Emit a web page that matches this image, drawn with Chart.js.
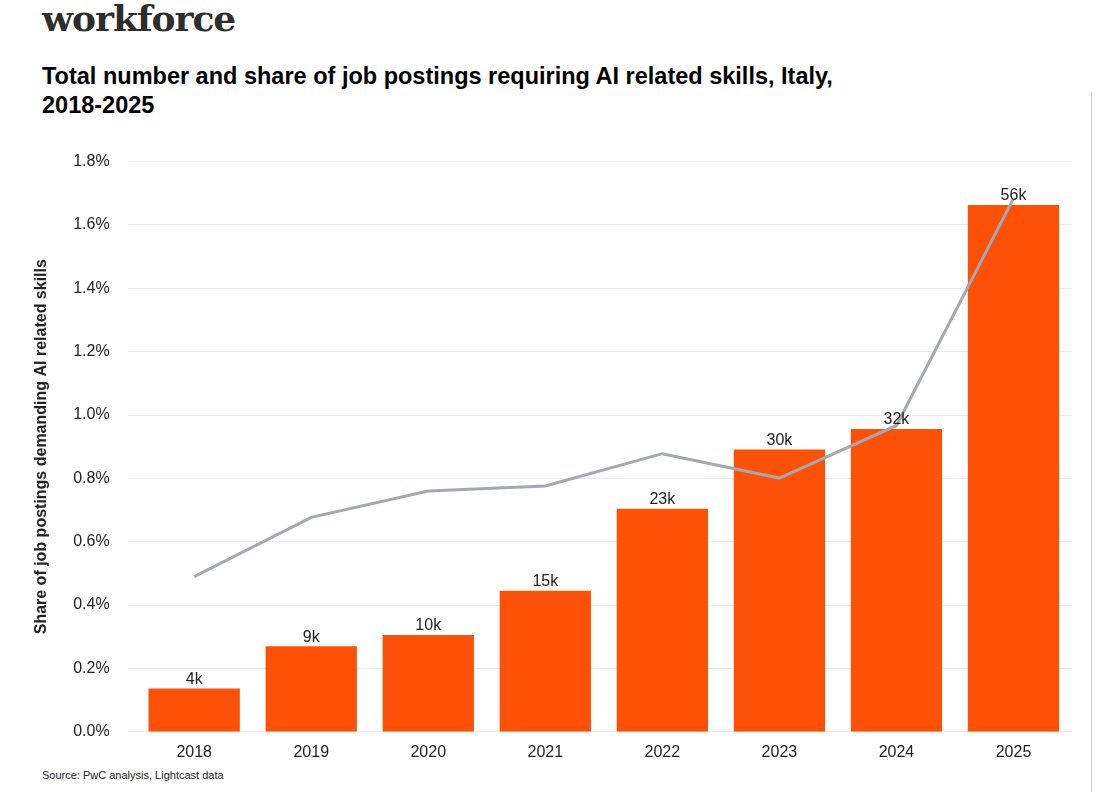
<!DOCTYPE html>
<html><head><meta charset="utf-8">
<script src="https://cdn.jsdelivr.net/npm/chart.js@4"></script>
<style>
body{margin:0;background:#fff;font-family:"Liberation Sans",Arial,sans-serif;}
#wrap{position:relative;width:1114px;height:803px;overflow:hidden}
#top{position:absolute;left:42px;top:-3px;font-family:"DejaVu Serif","Liberation Serif",serif;font-size:36px;color:#2d2d2d;font-weight:bold;letter-spacing:-1px}
#title{position:absolute;left:42px;top:62px;font-size:23.5px;font-weight:bold;color:#000;line-height:29px}
#vline{position:absolute;left:1091px;top:92px;width:1px;height:700px;background:#ccc}
#src{position:absolute;left:42px;top:769px;font-size:11px;color:#222}
#cv{position:absolute;left:30px;top:134px}
</style></head><body>
<div id="wrap">
<div id="top">workforce</div>
<div id="title">Total number and share of job postings requiring AI related skills, Italy,<br>2018-2025</div>
<div id="vline"></div>
<div id="cv"><canvas id="c" width="1062" height="631"></canvas></div>
<div id="src">Source: PwC analysis, Lightcast data</div>
</div>
<script>
const years=["2018","2019","2020","2021","2022","2023","2024","2025"];
const postingsK=[4.6,9.1,10.3,15.0,23.7,30.0,32.2,56.0];
const postingLabels=["4k","9k","10k","15k","23k","30k","32k","56k"];
const sharePct=[0.49,0.677,0.76,0.776,0.878,0.801,0.967,1.683];
const yTicks=[0,0.2,0.4,0.6,0.8,1.0,1.2,1.4,1.6,1.8];

const labelPlugin={id:'lbl',afterDatasetsDraw(chart){
  const ctx=chart.ctx;const meta=chart.getDatasetMeta(1);
  ctx.save();ctx.font='16px "Liberation Sans",Arial';ctx.fillStyle='#222';ctx.textAlign='center';ctx.textBaseline='bottom';
  meta.data.forEach((b,i)=>ctx.fillText(postingLabels[i],b.x,b.y-1));
  ctx.restore();}};

new Chart(document.getElementById('c'),{
 data:{labels:years,datasets:[
  {type:'line',data:sharePct,borderColor:'#a3a8b2',borderWidth:3,pointRadius:0,yAxisID:'y',order:0,tension:0},
  {type:'bar',data:postingsK,backgroundColor:'#fd5108',yAxisID:'y2',order:1,categoryPercentage:1,barPercentage:0.78}
 ]},
 options:{responsive:false,animation:false,
  layout:{padding:{right:20,top:0}},
  plugins:{legend:{display:false},tooltip:{enabled:false}},
  scales:{
   x:{grid:{display:false},border:{display:false},ticks:{color:'#222',font:{size:16,family:'"Liberation Sans",Arial'}}},
   y:{min:0,max:1.8,afterBuildTicks(s){s.ticks=yTicks.map(v=>({value:v}));},
      grid:{color:'#ececec'},border:{display:false},
      ticks:{color:'#222',padding:18,font:{size:16,family:'"Liberation Sans",Arial'},callback:v=>v.toFixed(1)+'%'},
      title:{display:true,text:'Share of job postings demanding AI related skills',color:'#222',padding:{top:2,bottom:4},font:{size:16,weight:'bold',family:'"Liberation Sans",Arial'}}},
   y2:{display:false,min:0,max:56/1.663*1.8}
  }},
 plugins:[labelPlugin]
});
</script>
</body></html>
